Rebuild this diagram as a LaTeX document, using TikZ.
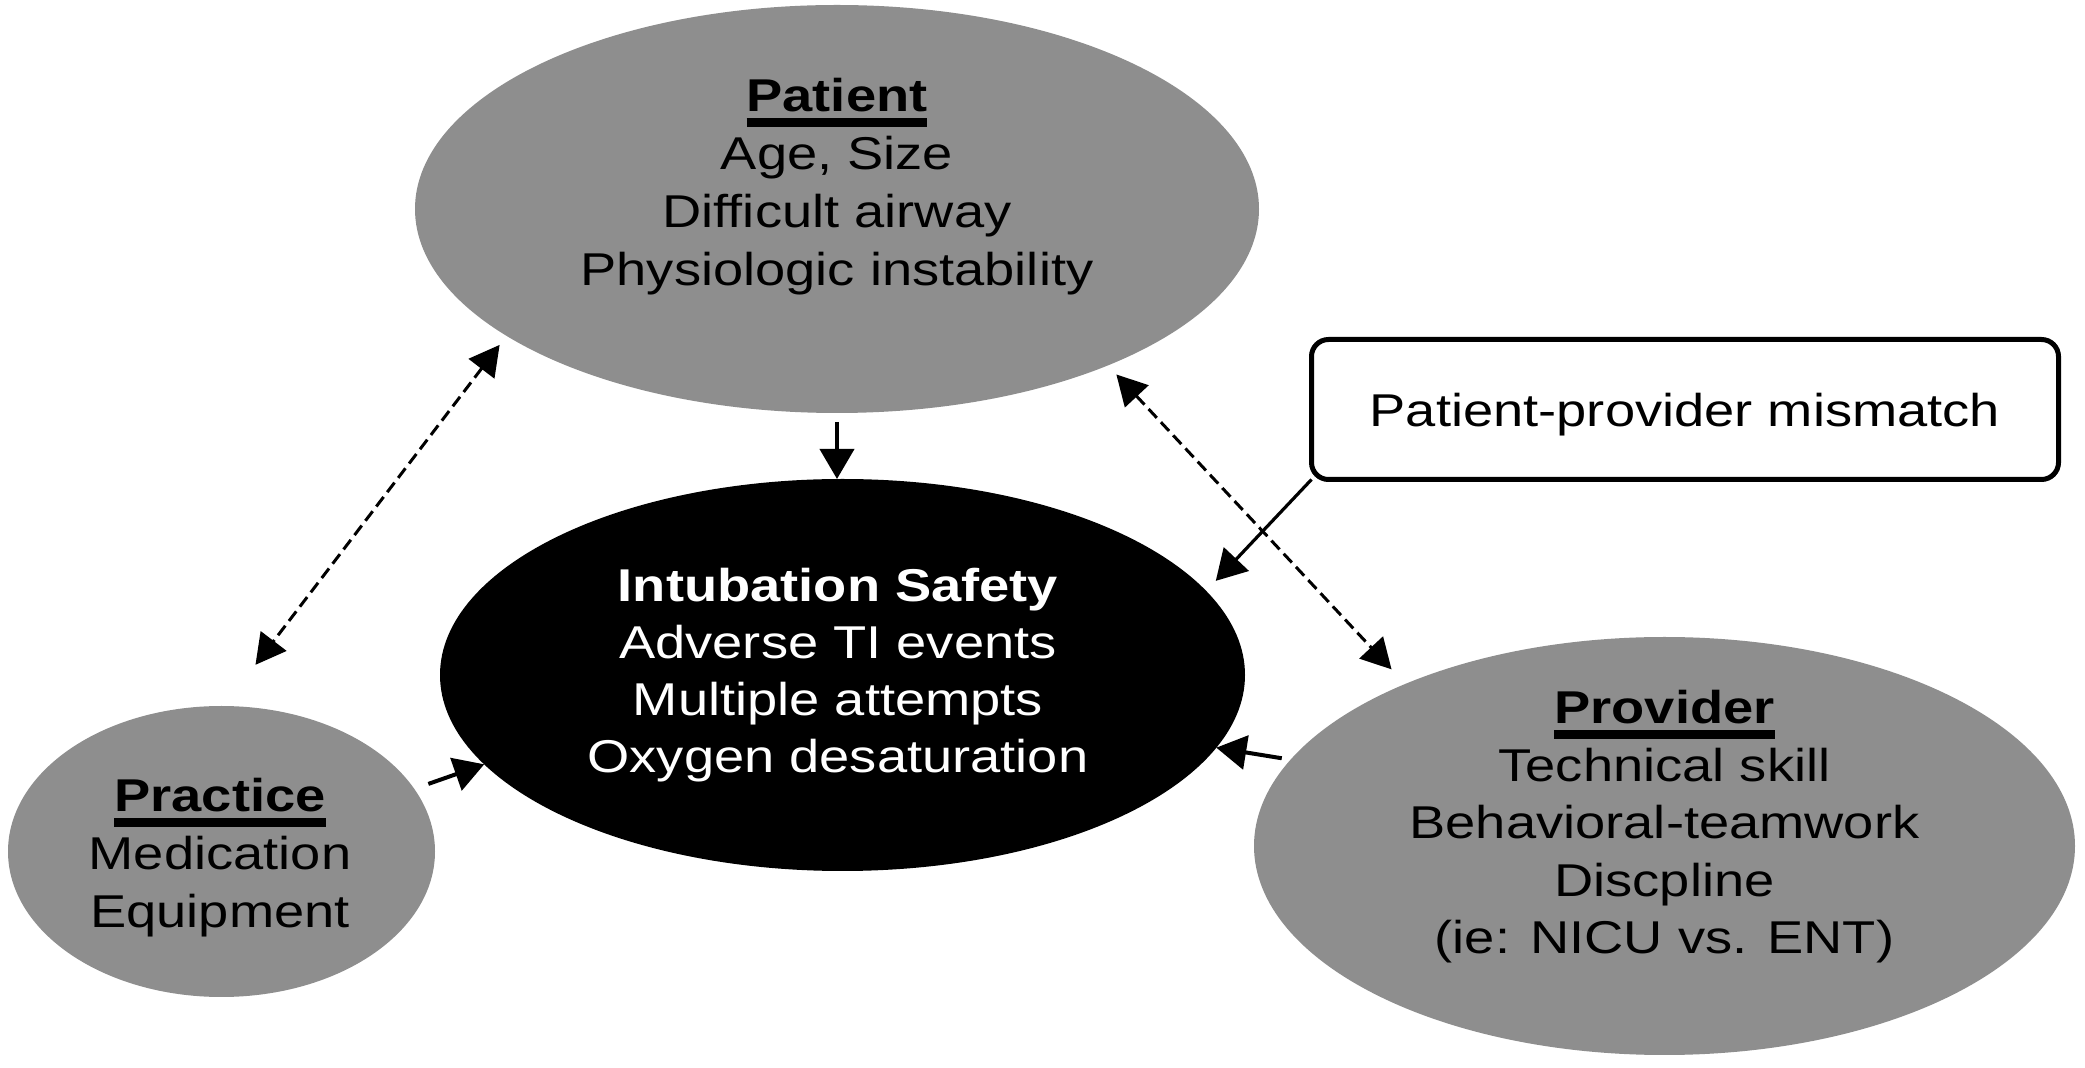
\documentclass[tikz,border=0pt]{standalone}
\usepackage{fontspec}
\setmainfont{Liberation Sans}[FakeStretch=1.18]
\usetikzlibrary{shapes.geometric,arrows.meta}
\definecolor{nodegray}{RGB}{142,142,142}
\newcommand{\ulword}[1]{\setbox0\hbox{#1}\rlap{\smash{\rule[-7.5pt]{\wd0}{4.5pt}}}\box0}
\begin{document}
\begin{tikzpicture}[x=0.5pt,y=-0.5pt,
  blob/.style={ellipse, fill=nodegray, draw=none, inner sep=0pt, outer sep=0pt},
  txt/.style={align=center, inner sep=0pt, font=\fontsize{23}{29}\selectfont},
  solidarr/.style={line width=2pt, -{Triangle[length=15pt,width=17pt]}},
  dasharr/.style={line width=1.5pt, dash pattern=on 6pt off 3pt,
    {Triangle[length=15pt,width=16pt]}-{Triangle[length=15pt,width=16pt]}}]
\useasboundingbox (0,0) rectangle (2085,1068);
\fill[white] (0,0) rectangle (2085,1068);

% shapes
\node[blob, minimum width=422pt, minimum height=204pt] (patient) at (837,209) {};
\node[blob, fill=black, minimum width=402.5pt, minimum height=196pt] (safety) at (842.5,675) {};
\node[blob, minimum width=213.5pt, minimum height=145.5pt] (practice) at (221.5,851.5) {};
\node[blob, minimum width=410.5pt, minimum height=209pt] (provider) at (1664.5,846) {};
\node[draw, line width=2.5pt, rounded corners=8.5pt, minimum width=373.5pt,
  minimum height=70pt, inner sep=0pt, outer sep=0pt, text height=17pt, text depth=0pt,
  font=\fontsize{23}{29}\selectfont] (mismatch) at (1685,409.5) {Patient-provider mismatch};

% texts
\node[txt] (patienttxt) at (837,187)
  {\ulword{\bfseries Patient}\\Age, Size\\Difficult airway\\Physiologic instability};
\node[txt, text=white, font=\fontsize{23}{28.5}\selectfont] (safetytxt) at (838,675.6)
  {\textbf{Intubation Safety}\\Adverse TI events\\Multiple attempts\\Oxygen desaturation};
\node[txt] (practicetxt) at (220,858)
  {\ulword{\bfseries Practice}\\Medication\\Equipment};
\node[txt, font=\fontsize{23}{28.75}\selectfont] (providertxt) at (1664.5,827)
  {\ulword{\bfseries Provider}\\Technical skill\\Behavioral-teamwork\\Discpline\\(ie: NICU vs. ENT)};

% connectors
\draw[solidarr] ([yshift=-4.5pt]patient.south) -- (patient.south |- safety.north);
\draw[solidarr, shorten <=7.5pt] (practice.18.7) -- (safety.194.4);
\draw[solidarr, shorten <=4.5pt] (provider.167.9) -- (safety.349.9);
\draw[solidarr, line width=1.6pt, shorten >=7pt] (mismatch.south west) -- (safety.13.15);
\draw[dasharr, shorten <=5.7pt, shorten >=25.9pt] (patient.201) -- (practice.89.6);
\draw[dasharr, shorten <=6.2pt, shorten >=10pt] (patient.330.6) -- (provider.148.3);
\end{tikzpicture}
\end{document}
